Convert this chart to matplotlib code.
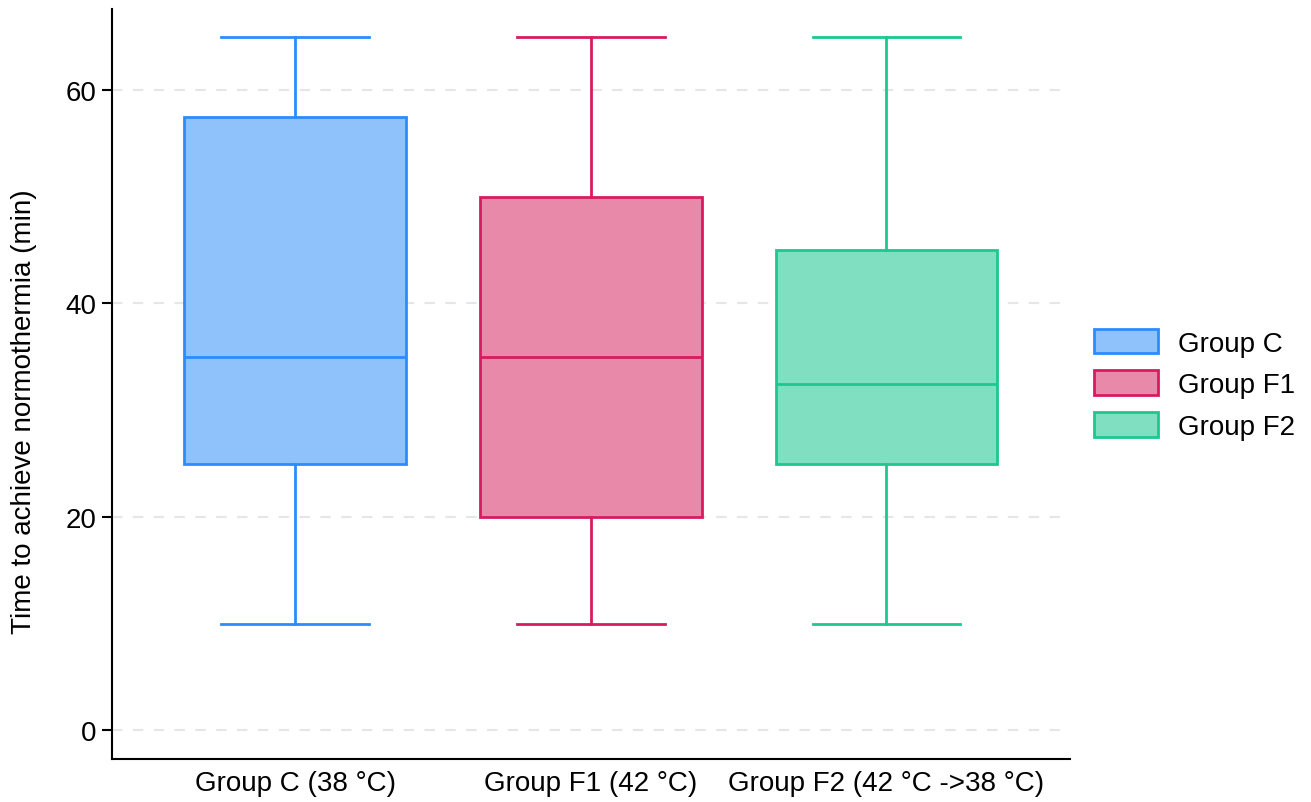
import matplotlib
matplotlib.use("Agg")
import matplotlib.pyplot as plt
from matplotlib.patches import Patch

plt.rcParams['font.family'] = ['Liberation Sans', 'DejaVu Sans']

categories = ["Group C (38 °C)", "Group F1 (42 °C)", "Group F2 (42 °C ->38 °C)"]
legend_labels = ["Group C", "Group F1", "Group F2"]
whislo = [10, 10, 10]
q1 = [25, 20, 25]
med = [35, 35, 32.5]
q3 = [57.5, 50, 45]
whishi = [65, 65, 65]
yticks = [0, 20, 40, 60]

fills = ["#8fc1fb", "#e989aa", "#80dfc0"]
edges = ["#2a8cff", "#d81b60", "#1bc98e"]

fig = plt.figure(figsize=(13.11, 8.03), dpi=100)
ax = fig.add_axes([0.0854, 0.0535, 0.7306, 0.934])

stats = []
for i in range(len(categories)):
    stats.append(dict(med=med[i], q1=q1[i], q3=q3[i], whislo=whislo[i], whishi=whishi[i], fliers=[]))

for i, s in enumerate(stats):
    ax.bxp([s], positions=[i], widths=0.75, patch_artist=True, showfliers=False,
           boxprops=dict(facecolor=fills[i], edgecolor=edges[i], linewidth=2),
           medianprops=dict(color=edges[i], linewidth=2),
           whiskerprops=dict(color=edges[i], linewidth=2),
           capprops=dict(color=edges[i], linewidth=2),
           capwidths=0.5, zorder=3)

ax.set_xlim(-0.62, 2.62)
ax.set_ylim(-2.7, 67.6)
ax.set_xticks(range(len(categories)))
ax.set_xticklabels(categories, fontsize=20)
ax.set_yticks(yticks)
ax.set_yticklabels([str(t) for t in yticks], fontsize=20)
ax.tick_params(axis='x', length=0, pad=8)
ax.tick_params(axis='y', length=7, width=1.5, pad=4)
ax.yaxis.grid(True, linestyle=(0, (5, 5)), color='#e6e6e6', linewidth=1.5, zorder=0)
ax.set_axisbelow(True)
for sp in ['top', 'right']:
    ax.spines[sp].set_visible(False)
for sp in ['left', 'bottom']:
    ax.spines[sp].set_linewidth(1.5)
ax.set_ylabel("Time to achieve normothermia (min)", fontsize=20)
ax.yaxis.set_label_coords(-0.078, 0.464)

handles = [Patch(facecolor=fills[i], edgecolor=edges[i], linewidth=2, label=legend_labels[i]) for i in range(3)]
fig.legend(handles=handles, loc='center left', bbox_to_anchor=(0.8156, 0.52), frameon=False,
           fontsize=20, handlelength=2.3, handleheight=1.0, labelspacing=0.5, handletextpad=0.7)

fig.savefig("out.png", dpi=100, facecolor='white')
